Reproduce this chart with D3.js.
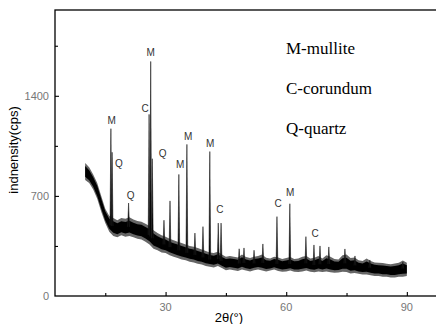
<!DOCTYPE html>
<html>
<head>
<meta charset="utf-8">
<script src="https://cdn.jsdelivr.net/npm/d3@7"></script>
<style>
  body { margin: 0; background: #fff; }
  svg { display: block; }
</style>
</head>
<body>
<div class="canvas"></div>
<script>
// background band of the scan, 2theta in degrees, low / high edge in cps
const bgAngle = [10, 11, 12, 13, 14, 15, 16, 17, 18, 19, 20, 21, 22, 23, 24, 25, 26, 27, 28, 29,
    30, 31, 32, 33, 34, 35, 36, 37, 38, 39, 40, 41, 42, 43, 44, 45, 46, 47, 48, 49,
    50, 51, 52, 53, 54, 55, 56, 57, 58, 59, 60, 61, 62, 63, 64, 65, 66, 67, 68, 69,
    70, 71, 72, 73, 74, 75, 76, 77, 78, 79, 80, 81, 82, 83, 84, 85, 86, 87, 88, 89, 90]
const bgLow = [812, 790, 745, 680, 590, 510, 450, 420, 410, 425, 415, 420, 410, 400, 395, 380, 360, 330, 320, 305,
    300, 285, 275, 265, 255, 250, 240, 235, 225, 220, 210, 205, 200, 210, 195, 180, 185, 180, 175, 185,
    178, 172, 180, 185, 178, 172, 178, 185, 175, 170, 172, 178, 170, 168, 172, 178, 170, 166, 172, 168,
    172, 166, 162, 165, 170, 168, 158, 160, 155, 150, 150, 145, 140, 140, 135, 135, 130, 130, 135, 135, 140]
const bgHigh = [930, 900, 850, 790, 700, 610, 560, 545, 530, 545, 540, 550, 535, 525, 520, 505, 490, 460, 440, 425,
    415, 400, 390, 380, 370, 360, 350, 345, 335, 325, 315, 305, 300, 310, 290, 275, 280, 275, 270, 290,
    272, 265, 275, 280, 290, 268, 262, 275, 270, 258, 265, 272, 258, 262, 275, 280, 262, 268, 280, 262,
    285, 275, 258, 255, 285, 290, 265, 270, 250, 245, 262, 245, 235, 232, 230, 226, 222, 228, 232, 248, 232]

// diffraction peaks, 2theta and top intensity
const peakAngle = [16.4, 16.7, 20.8, 25.9, 26.3, 26.7, 29.6, 31.1, 33.3, 35.3, 37.3, 39.3, 41.0, 43.1, 43.8,
    48.3, 49.5, 52.0, 54.2, 57.7, 60.9, 64.9, 66.9, 68.4, 70.6, 74.6, 77.1, 80.8, 89.0]
const peakTop = [1170, 1005, 650, 1270, 1640, 960, 530, 665, 850, 1060, 440, 485, 1010, 510, 510,
    330, 336, 320, 364, 555, 645, 415, 357, 350, 343, 329, 280, 252, 238]

// phase labels over the peaks
const markText = ["M", "Q", "M", "C", "Q", "Q", "M", "M", "M", "C", "C", "M", "C"]
const markAngle = [16.6, 18.4, 26.3, 24.9, 29.3, 21.3, 33.6, 35.6, 41.1, 43.5, 58.0, 61.0, 67.2]
const markValue = [1200, 900, 1680, 1285, 970, 680, 895, 1090, 1045, 580, 620, 700, 415]

const legendText = ["M-mullite", "C-corundum", "Q-quartz"]

const xMajor = [30, 60, 90]
const xMinor = [15, 45, 75]
const yMajor = [0, 700, 1400]
const yMinor = [350, 1050, 1750]

const width = 436
const height = 324
const margin = { top: 10, right: -1, bottom: 28, left: 55 }

const svg = d3.select(".canvas")
    .append("svg")
    .attr("width", width)
    .attr("height", height)

const x = d3.scaleLinear()
    .domain([2.5, 97.5])
    .range([margin.left, width - margin.right])

const y = d3.scaleLinear()
    .domain([0, 2000])
    .range([height - margin.bottom, margin.top])

// background level used as the foot of each peak
const footLevel = d3.scaleLinear()
    .domain(bgAngle)
    .range(bgAngle.map((a, i) => (bgLow[i] + bgHigh[i]) / 2))

const bg = bgAngle.map((a, i) => ({ a: a, lo: bgLow[i], hi: bgHigh[i] }))

// grey fringe of the noise, then the dense black core
svg.append("path")
    .datum(bg)
    .attr("fill", "#666")
    .attr("d", d3.area()
        .x(d => x(d.a))
        .y0(d => y(d.lo))
        .y1(d => y(d.hi)))

svg.append("path")
    .datum(bg)
    .attr("fill", "#000")
    .attr("d", d3.area()
        .x(d => x(d.a))
        .y0(d => y(d.lo + (d.hi - d.lo) * 0.18))
        .y1(d => y(d.hi - (d.hi - d.lo) * 0.18)))

const peakLine = d3.line()
    .x(d => x(d[0]))
    .y(d => y(d[1]))

svg.selectAll(".peak")
    .data(peakAngle.map((a, i) => ({ a: a, top: peakTop[i] })))
    .enter()
    .append("path")
    .attr("class", "peak")
    .attr("fill", "#000")
    .attr("stroke", "#222")
    .attr("stroke-width", 0.6)
    .attr("d", d => peakLine([
        [d.a - 0.22, footLevel(d.a)],
        [d.a, d.top],
        [d.a + 0.22, footLevel(d.a)]
    ]))

svg.selectAll(".mark")
    .data(markText)
    .enter()
    .append("text")
    .attr("class", "mark")
    .attr("x", (d, i) => x(markAngle[i]))
    .attr("y", (d, i) => y(markValue[i]))
    .attr("text-anchor", "middle")
    .attr("font-family", "Liberation Sans, Arial, sans-serif")
    .attr("font-size", 10)
    .attr("fill", "#333")
    .text(d => d)

// frame, right side falls off the picture
svg.append("rect")
    .attr("x", x(2.5))
    .attr("y", y(2000))
    .attr("width", x(97.5) - x(2.5))
    .attr("height", y(0) - y(2000))
    .attr("fill", "none")
    .attr("stroke", "#000")
    .attr("stroke-width", 1.3)

// axes with inward ticks
const xAxisGroup = svg.append("g")
    .attr("transform", `translate(0, ${y(0)})`)
xAxisGroup.call(d3.axisTop(x).tickValues(xMajor).tickSize(4).tickFormat(""))
xAxisGroup.append("g").call(d3.axisTop(x).tickValues(xMinor).tickSize(3).tickFormat(""))
xAxisGroup.selectAll(".domain").remove()
xAxisGroup.selectAll("line").attr("stroke-width", 1.1)

xAxisGroup.selectAll(".xlab")
    .data(xMajor)
    .enter()
    .append("text")
    .attr("class", "xlab")
    .attr("x", d => x(d))
    .attr("y", 15)
    .attr("text-anchor", "middle")
    .attr("font-family", "Liberation Sans, Arial, sans-serif")
    .attr("font-size", 11)
    .attr("fill", "#777")
    .text(d => d)

const yAxisGroup = svg.append("g")
    .attr("transform", `translate(${x(2.5)}, 0)`)
yAxisGroup.call(d3.axisRight(y).tickValues(yMajor.filter(v => v > 0)).tickSize(4).tickFormat(""))
yAxisGroup.append("g").call(d3.axisRight(y).tickValues(yMinor).tickSize(3).tickFormat(""))
yAxisGroup.selectAll(".domain").remove()
yAxisGroup.selectAll("line").attr("stroke-width", 1.1)

yAxisGroup.selectAll(".ylab")
    .data(yMajor)
    .enter()
    .append("text")
    .attr("class", "ylab")
    .attr("x", -6)
    .attr("y", d => y(d) + 4)
    .attr("text-anchor", "end")
    .attr("font-family", "Liberation Sans, Arial, sans-serif")
    .attr("font-size", 11)
    .attr("fill", "#777")
    .text(d => d)

// axis titles
svg.append("text")
    .attr("x", 229)
    .attr("y", 322)
    .attr("text-anchor", "middle")
    .attr("font-family", "Liberation Sans, Arial, sans-serif")
    .attr("font-size", 13)
    .attr("fill", "#000")
    .text("2θ(°)")

svg.append("text")
    .attr("transform", "translate(18, 150) rotate(-90)")
    .attr("text-anchor", "middle")
    .attr("font-family", "Liberation Sans, Arial, sans-serif")
    .attr("font-size", 13)
    .attr("fill", "#000")
    .text("indnensity(cps)")

// legend text
svg.selectAll(".legend")
    .data(legendText)
    .enter()
    .append("text")
    .attr("class", "legend")
    .attr("x", 286)
    .attr("y", (d, i) => 54 + i * 40)
    .attr("font-family", "Liberation Serif, Times New Roman, serif")
    .attr("font-size", 17)
    .attr("fill", "#000")
    .text(d => d)
</script>
</body>
</html>
